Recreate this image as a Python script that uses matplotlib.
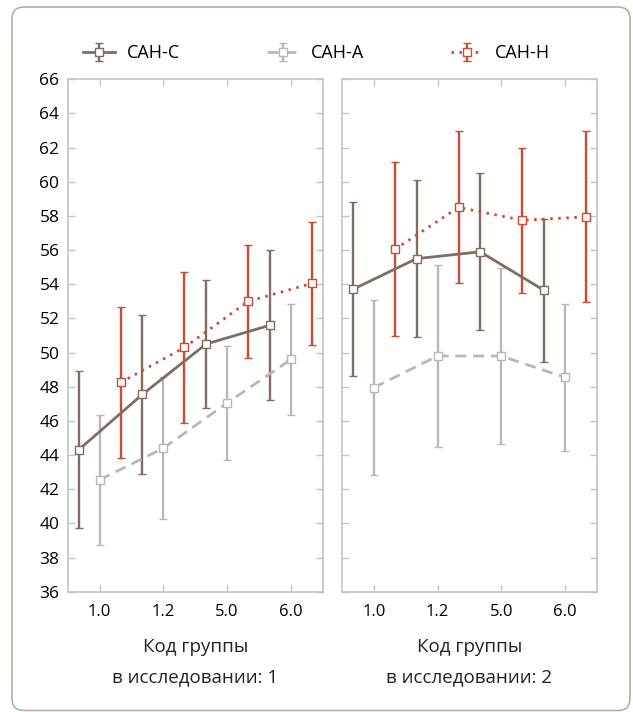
import matplotlib
matplotlib.use("Agg")
import matplotlib.pyplot as plt
from matplotlib.patches import FancyBboxPatch
import numpy as np

plt.rcParams['font.family'] = ['Open Sans', 'DejaVu Sans']

# group codes on the x axis
groups = ["1.0", "1.2", "5.0", "6.0"]
series_names = ["САН-С", "САН-А", "САН-Н"]

# study 1: means and error half-widths
s1_c_mean = [44.3, 47.55, 50.5, 51.6]
s1_c_err = [4.6, 4.65, 3.75, 4.4]
s1_a_mean = [42.55, 44.4, 47.05, 49.6]
s1_a_err = [3.8, 4.15, 3.35, 3.25]
s1_h_mean = [48.25, 50.3, 53.0, 54.05]
s1_h_err = [4.4, 4.4, 3.3, 3.6]

# study 2
s2_c_mean = [53.7, 55.5, 55.9, 53.65]
s2_c_err = [5.1, 4.6, 4.6, 4.2]
s2_a_mean = [47.95, 49.8, 49.8, 48.55]
s2_a_err = [5.1, 5.3, 5.15, 4.3]
s2_h_mean = [56.05, 58.5, 57.75, 57.95]
s2_h_err = [5.1, 4.45, 4.25, 5.0]

study_labels = ["Код группы\nв исследовании: 1", "Код группы\nв исследовании: 2"]

colors = ["#7f6e60", "#b8b8b8", "#cc4a30"]
styles = ["-", (0, (4, 2.4)), (0, (0.9, 2.0))]
offsets = [-0.33, 0.0, 0.33]
axis_gray = "#c4c4c4"

fig = plt.figure(figsize=(6.33, 7.12), dpi=100)

frame = FancyBboxPatch((12, 1.5), 618, 703.5, boxstyle="round,pad=0,rounding_size=12",
                       transform=None, fill=False, edgecolor="#bba595", linewidth=1.1)
fig.patches.append(frame)

ax1 = fig.add_axes([0.107, 0.169, 0.403, 0.7196])
ax2 = fig.add_axes([0.5403, 0.169, 0.4024, 0.7196])

data = [
    [(s1_c_mean, s1_c_err), (s1_a_mean, s1_a_err), (s1_h_mean, s1_h_err)],
    [(s2_c_mean, s2_c_err), (s2_a_mean, s2_a_err), (s2_h_mean, s2_h_err)],
]

x = np.arange(len(groups))
handles = []
for k, ax in enumerate([ax1, ax2]):
    for i, (m, e) in enumerate(data[k]):
        h = ax.errorbar(x + offsets[i], m, yerr=e, color=colors[i], ecolor=colors[i],
                        linestyle=styles[i], linewidth=2.0, elinewidth=1.7,
                        capsize=3.2, capthick=1.9, marker="s", markersize=5.5,
                        markerfacecolor="white", markeredgecolor=colors[i],
                        markeredgewidth=1.0)
        if k == 0:
            handles.append(h)
    ax.set_xlim(-0.5, 3.5)
    ax.set_ylim(36, 66)
    ax.set_yticks(np.arange(36, 67, 2))
    ax.set_xticks(x)
    ax.set_xticklabels(groups)
    ax.tick_params(axis="both", direction="in", length=5, width=1, color=axis_gray,
                   top=True, right=True)
    ax.tick_params(axis="x", labelsize=12, pad=9)
    ax.tick_params(axis="y", labelsize=12.5, pad=6)
    for sp in ax.spines.values():
        sp.set_color(axis_gray)
        sp.set_linewidth(1.2)
    ax.set_xlabel(study_labels[k], fontsize=13.5, linespacing=1.85, labelpad=13, color="#222222")

ax2.tick_params(axis="y", labelleft=False)

fig.legend(handles, series_names, ncol=3, loc="center", bbox_to_anchor=(0.5, 1 - 53 / 712),
           frameon=False, fontsize=13, handlelength=1.75, handletextpad=0.65, columnspacing=4.85)

fig.savefig("out.png", dpi=100)
